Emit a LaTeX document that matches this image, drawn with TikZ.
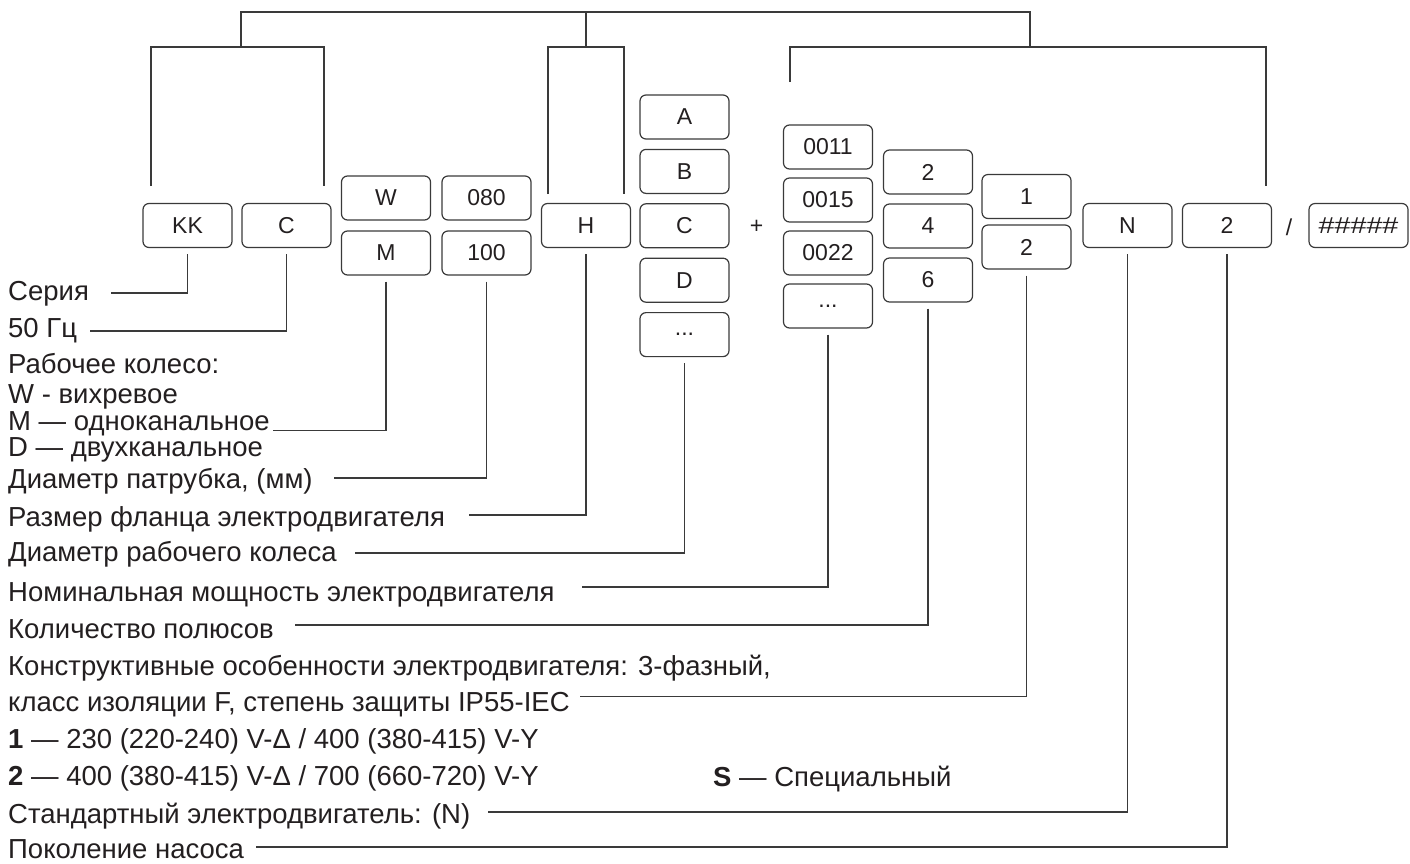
\documentclass[tikz,border=0pt]{standalone}
\usepackage{fontspec}
\setmainfont{Liberation Sans}
\definecolor{inkc}{HTML}{231F20}
\definecolor{pencil}{HTML}{3A3A3A}
\newcommand{\etcdots}{...}
\tikzset{
    cell/.style = {draw = pencil, line width = 1.2pt, rounded corners = 6pt, minimum width = 89pt, minimum height = 44pt, inner sep = 0pt, text = inkc, font = \fontsize{23}{27}\selectfont},
    legend/.style = {anchor = base west, inner sep = 0pt, text = inkc, font = \fontsize{27.5}{32}\selectfont},
    lead/.style = {draw = pencil, line width = 1.2pt}
}
\begin{document}
\begin{tikzpicture}[x = 1pt, y = -1pt]
        \useasboundingbox (0, 0) rectangle (1410, 863);
        \node[cell] (kk) at (187.5, 225.5) {KK};
        \node[cell] (c) at (286.5, 225.5) {C};
        \foreach \v/\t [count = \i from 0] in {w/W, m/M}{
            \node[cell] (\v) at (386, 198 + 55*\i) {\t};
        }
        \foreach \v/\t [count = \i from 0] in {d80/080, d100/100}{
            \node[cell] (\v) at (486.5, 198 + 55*\i) {\t};
        }
        \node[cell] (h) at (586, 225.5) {H};
        \foreach \v/\t [count = \i from 0] in {a/A, b/B, cc/C, d/D, amore/\etcdots}{
            \node[cell] (\v) at (684.5, 117 + 54.4*\i) {\t};
        }
        \node[text = inkc, font = \fontsize{23}{27}\selectfont] (plus) at (756.6, 227) {+};
        \foreach \v/\t [count = \i from 0] in {p11/0011, p15/0015, p22/0022, pmore/\etcdots}{
            \node[cell] (\v) at (828, 147 + 53*\i) {\t};
        }
        \foreach \v/\t [count = \i from 0] in {pole2/2, pole4/4, pole6/6}{
            \node[cell] (\v) at (928, 172 + 54*\i) {\t};
        }
        \foreach \v/\t [count = \i from 0] in {volt1/1, volt2/2}{
            \node[cell] (\v) at (1026.5, 196.5 + 50.5*\i) {\t};
        }
        \node[cell] (n) at (1127.5, 225.5) {N};
        \node[cell] (gen2) at (1227, 225.5) {2};
        \node[text = inkc, font = \fontsize{23}{27}\selectfont] (slash) at (1289, 227) {/};
        \node[cell, minimum width = 99pt] (suffix) at (1358.5, 225.5) {\scalebox{1.25}[1]{\#\#\#\#\#}};

        \coordinate (kkl) at (151, 186);
        \coordinate (ccr) at (324, 186);
        \coordinate (hl) at (548, 194);
        \coordinate (hr) at (624, 194);
        \coordinate (pl) at (790, 82);
        \coordinate (pr) at (1266, 186);
        \draw[lead] (kkl) |- (ccr |- 0, 47) -- (ccr);
        \draw[lead] (hl) |- (hr |- 0, 47) -- (hr);
        \draw[lead] (pl) |- (pr |- 0, 47) -- (pr);
        \draw[lead] (241, 47) |- (1030, 12) -- (1030, 47);
        \draw[lead] (586, 12) -- (586, 47);

        \node[legend] (serie) at (8, 300) {Серия};
        \node[legend] (hz) at (8, 337) {50 Гц};
        \node[legend] (imp1) at (8, 373) {Рабочее колесо:};
        \node[legend] (imp2) at (8, 403) {W - вихревое};
        \node[legend] (imp3) at (8, 430.5) {M — одноканальное};
        \node[legend] (imp4) at (8, 456.5) {D — двухканальное};
        \node[legend] (dn) at (8, 488) {Диаметр патрубка, (мм)};
        \node[legend] (fl) at (8, 526) {Размер фланца электродвигателя};
        \node[legend] (dimp) at (8, 561) {Диаметр рабочего колеса};
        \node[legend] (pow) at (8, 601) {Номинальная мощность электродвигателя};
        \node[legend] (pol) at (8, 638) {Количество полюсов};
        \node[legend] (con1) at (8, 675) {Конструктивные особенности электродвигателя: 3-фазный,};
        \node[legend] (con2) at (8, 711.5) {класс изоляции F, степень защиты IP55-IEC};
        \node[legend] (volts1) at (8, 748) {\textbf{1} — 230 (220-240) V-Δ / 400 (380-415) V-Y};
        \node[legend] (volts2) at (8, 785) {\textbf{2} — 400 (380-415) V-Δ / 700 (660-720) V-Y};
        \node[legend] (spec) at (713, 786) {\textbf{S} — Специальный};
        \node[legend] (std) at (8, 823) {Стандартный электродвигатель: (N)};
        \node[legend] (gen) at (8, 858) {Поколение насоса};

        \foreach \b/\t/\g/\h in {kk/serie/22/7, c/hz/13/6, m/imp3/3/0, d100/dn/21/10, h/fl/24/11, amore/dimp/18/8, pmore/pow/27/14, pole6/pol/21/13, volt2/con2/10/15, n/std/18/11, gen2/gen/12/11}{
            \draw[lead] ([yshift = -6pt]\b.south) |- ([xshift = \g pt, yshift = \h pt]\t.base east);
        }
    \end{tikzpicture}
\end{document}
